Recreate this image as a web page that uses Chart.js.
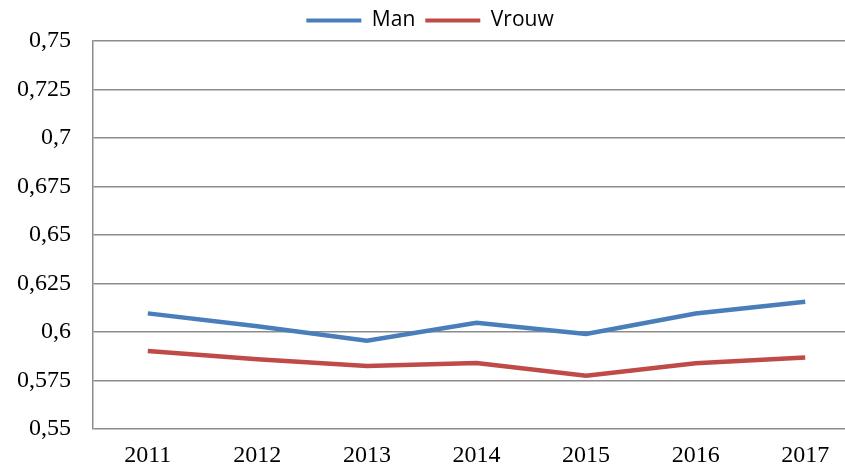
<!DOCTYPE html>
<html>
<head>
<meta charset="utf-8">
<script src="https://cdn.jsdelivr.net/npm/chart.js@4/dist/chart.umd.min.js"></script>
<style>
  html, body { margin: 0; padding: 0; background: #fff; overflow: hidden; }
  canvas { display: block; }
</style>
</head>
<body>
<canvas id="chart" width="860" height="475"></canvas>
<script>
const years = ['2011', '2012', '2013', '2014', '2015', '2016', '2017'];
const man = [0.6096, 0.6030, 0.5955, 0.6048, 0.5990, 0.6095, 0.6156];
const vrouw = [0.5902, 0.5860, 0.5825, 0.5840, 0.5774, 0.5839, 0.5868];
const yMin = 0.55, yMax = 0.75, yStep = 0.025;

const gridColor = '#8c8c8c';
const serif = "'Liberation Serif', 'Times New Roman', serif";

new Chart(document.getElementById('chart'), {
    type: 'line',
    data: {
        labels: years,
        datasets: [
            { label: 'Man', data: man, borderColor: '#4a7ebb', backgroundColor: '#4a7ebb', borderWidth: 4.5, pointRadius: 0, tension: 0 },
            { label: 'Vrouw', data: vrouw, borderColor: '#be4b48', backgroundColor: '#be4b48', borderWidth: 4.5, pointRadius: 0, tension: 0 }
        ]
    },
    options: {
        responsive: false,
        animation: false,
        layout: { padding: { left: 0, right: 0, top: 0, bottom: 0 } },
        plugins: {
            legend: {
                position: 'top',
                labels: {
                    font: { family: "'Open Sans', 'Liberation Sans', sans-serif", size: 21 },
                    color: '#000',
                    boxWidth: 55,
                    boxHeight: 4,
                    padding: 10,
                    generateLabels: function(chart) {
                        const items = Chart.defaults.plugins.legend.labels.generateLabels(chart);
                        items.forEach(it => { it.lineWidth = 0; });
                        return items;
                    }
                }
            },
            tooltip: { enabled: false }
        },
        scales: {
            x: {
                offset: true,
                grid: { display: false, drawTicks: false, offset: true },
                border: { display: false },
                ticks: { font: { family: serif, size: 24 }, color: '#000', padding: 12, maxRotation: 0 },
                afterFit: function(scale) { scale.height = 46; }
            },
            y: {
                min: yMin,
                max: yMax,
                grid: { color: gridColor, lineWidth: 1.5, drawTicks: false },
                border: { display: true, color: gridColor, width: 1.5 },
                ticks: {
                    stepSize: yStep,
                    font: { family: serif, size: 24 },
                    color: '#000',
                    padding: 22,
                    callback: function(v) { return String(Math.round(v * 1000) / 1000).replace('.', ','); }
                },
                afterFit: function(scale) { scale.width = 93; }
            }
        }
    }
});
</script>
</body>
</html>
